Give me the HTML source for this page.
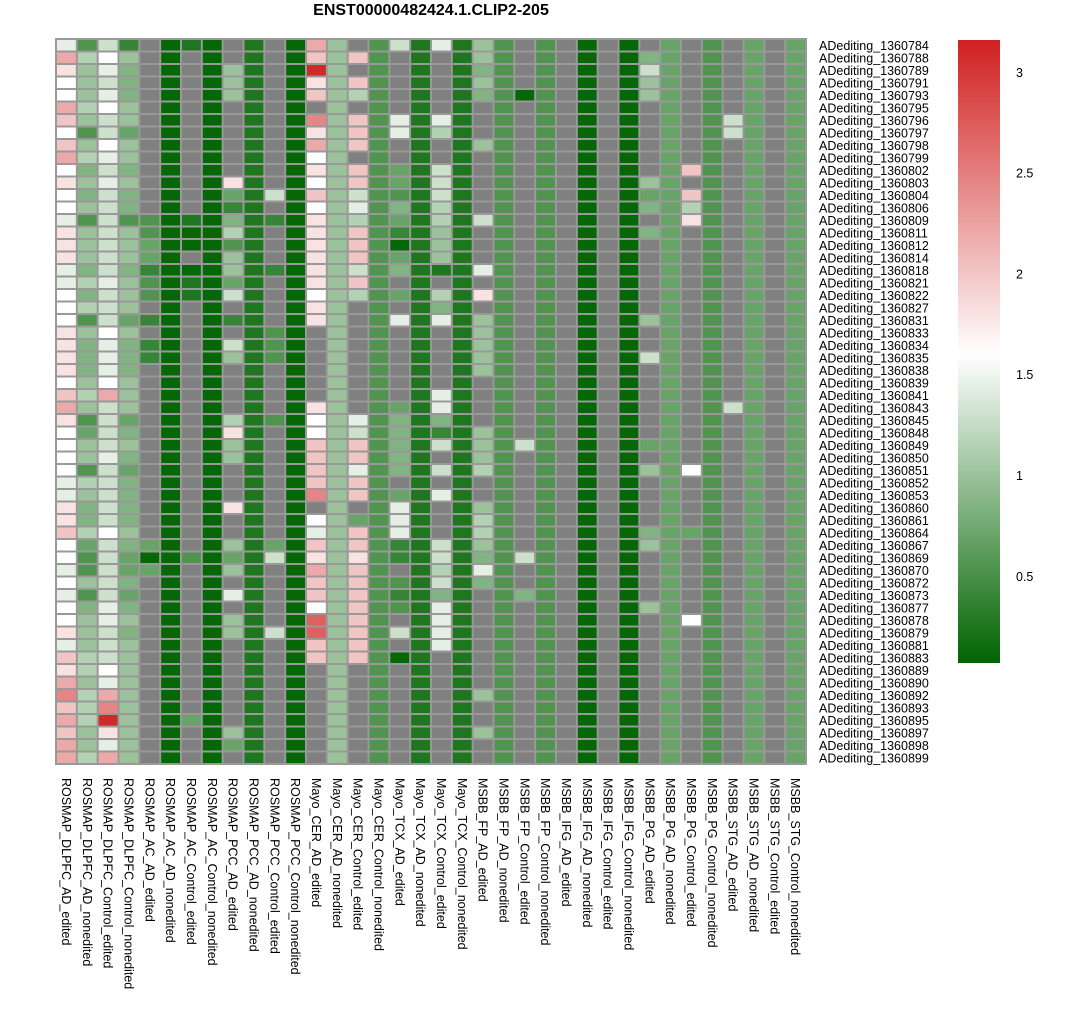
<!DOCTYPE html>
<html><head><meta charset="utf-8"><style>
body{margin:0;background:#fff;width:1066px;height:1016px;overflow:hidden;font-family:"Liberation Sans",sans-serif}
svg text{font-family:"Liberation Sans",sans-serif}
</style></head><body>
<svg id="chart" width="1066" height="1016" xmlns="http://www.w3.org/2000/svg">
<defs><linearGradient id="lg" x1="0" y1="1" x2="0" y2="0">
<stop offset="0" stop-color="#006400"/><stop offset="0.495" stop-color="#ffffff"/><stop offset="1" stop-color="#d02020"/></linearGradient></defs>
<text x="431" y="15" text-anchor="middle" font-size="16" font-weight="bold">ENST00000482424.1.CLIP2-205</text>
<rect x="55" y="38" width="752" height="727" fill="#999"/>
<g id="cells"></g><g id="rowlabels"></g><g id="collabels"></g>
<rect x="958" y="40" width="42" height="623" fill="url(#lg)"/>
<g id="legendticks"></g>
</svg>
<script>
const rowNames=["1360784","1360788","1360789","1360791","1360793","1360795","1360796","1360797","1360798","1360799","1360802","1360803","1360804","1360806","1360809","1360811","1360812","1360814","1360818","1360821","1360822","1360827","1360831","1360833","1360834","1360835","1360838","1360839","1360841","1360843","1360845","1360848","1360849","1360850","1360851","1360852","1360853","1360860","1360861","1360864","1360867","1360869","1360870","1360872","1360873","1360877","1360878","1360879","1360881","1360883","1360889","1360890","1360892","1360893","1360895","1360897","1360898","1360899"];
const colNames=["ROSMAP_DLPFC_AD_edited","ROSMAP_DLPFC_AD_nonedited","ROSMAP_DLPFC_Control_edited","ROSMAP_DLPFC_Control_nonedited","ROSMAP_AC_AD_edited","ROSMAP_AC_AD_nonedited","ROSMAP_AC_Control_edited","ROSMAP_AC_Control_nonedited","ROSMAP_PCC_AD_edited","ROSMAP_PCC_AD_nonedited","ROSMAP_PCC_Control_edited","ROSMAP_PCC_Control_nonedited","Mayo_CER_AD_edited","Mayo_CER_AD_nonedited","Mayo_CER_Control_edited","Mayo_CER_Control_nonedited","Mayo_TCX_AD_edited","Mayo_TCX_AD_nonedited","Mayo_TCX_Control_edited","Mayo_TCX_Control_nonedited","MSBB_FP_AD_edited","MSBB_FP_AD_nonedited","MSBB_FP_Control_edited","MSBB_FP_Control_nonedited","MSBB_IFG_AD_edited","MSBB_IFG_AD_nonedited","MSBB_IFG_Control_edited","MSBB_IFG_Control_nonedited","MSBB_PG_AD_edited","MSBB_PG_AD_nonedited","MSBB_PG_Control_edited","MSBB_PG_Control_nonedited","MSBB_STG_AD_edited","MSBB_STG_AD_nonedited","MSBB_STG_Control_edited","MSBB_STG_Control_nonedited"];
// value codes: '.' = NA
const codeLetters="abcdefghijklmnopq";
const codeValues=[0.1,0.25,0.4,0.55,0.7,0.85,1.0,1.15,1.3,1.45,1.6,1.8,2.0,2.2,2.45,2.7,3.1];
const columnData=[
"jnlkknmkmnklkkjlllj"+"jkkkllllkmnlkkkkjjll"+"mkkjkjkkljmlnomnmnn",
"dhggghgdghfgfgdgggf"+"hfhdgfffghgdeggdhgff"+"heddgdfggghhghhhggh",
"ikjijkiikjijiiiiiii"+"jiiikjjjkniiiijiiiii"+"kiiiiijjiiikjnoqljn",
"cgfffggeggfgffdgggf"+"gggegfffgggefgfefff"+"fgfeefefgfgggggggggg".slice(0,20),
"..............ddeec"+"dd.c.cc............."+".eae...............",
"a".repeat(58),
"b.............baa.a"+"bb.................."+"..d............e...",
"a".repeat(58),
"..ggg......lecfhdgg"+"ei.c.ig....hlgg...l."+".geg.j.gg.......ge.",
"b".repeat(58),
"............i.c...c"+"....ddd....d........"+".ei.....i..........",
"a".repeat(58),
"nmqlm.olnklkmklllll"+"lkll......lkkmmmmo.k"+"jmlnmmkppmm........",
"g".repeat(58),
".m.mh.mmm.mmijhmmmi"+"mh.........jimmjmm.e"+"mmlmmmmmmmm........",
"d".repeat(58),
"i.....jj..eedfecaef"+".e.j......efffff.ejj"+"jcc.dcd.i.a........",
"b".repeat(58),
"j.....jh..iiihhgggb"+".hfj.....jjfci.i.j.."+".iihifjjjj.........",
"b".repeat(58),
"ggfgf...g.....i...j"+".l.ggggg....gggh..gh"+"hgfjf........g..g..",
"d".repeat(58),
"....a.............."+".............i......"+"..i..f.............",
"d".repeat(58),
".".repeat(58),
"a".repeat(58),
".".repeat(58),
"a".repeat(58),
".figg......gef.f..."+"...g..i......e.g...."+"fg....g............",
"e".repeat(58),
"..........m.mhl...."+"...............k...."+"e......k...........",
"d".repeat(58),
"......ii..........."+"..........i........."+"...................",
"e".repeat(58),
".".repeat(58),
"e".repeat(58)
];
const tickValues=[3,2.5,2,1.5,1,0.5];
const tickLabels=["3","2.5","2","1.5","1","0.5"];

const X0=56,Y0=39,CW=750/36,RH=725/58;
const vmin=0.07,vmid=1.6,vmax=3.16;
function xPos(c){return X0+c*CW;}
function yPos(r){return Y0+r*RH;}
function legendY(v){return 663-(v-vmin)/(vmax-vmin)*623;}
function color(v){
  let r,g,b;
  if(v<=vmid){const t=Math.max(0,(v-vmin)/(vmid-vmin));r=255*t;g=100+155*t;b=255*t;}
  else{const t=Math.min(1,(v-vmid)/(vmax-vmid));r=255-47*t;g=255-223*t;b=255-223*t;}
  return `rgb(${r|0},${g|0},${b|0})`;
}
function decode(s){const out=[];for(let i=0;i<58;i++){const ch=s[i]||".";const k=codeLetters.indexOf(ch);out.push(k<0?null:codeValues[k]);}return out;}
const NS="http://www.w3.org/2000/svg";
const cells=document.getElementById("cells");
columnData.forEach((s,c)=>{
  const vals=decode(s);
  vals.forEach((v,r)=>{
    const el=document.createElementNS(NS,"rect");
    el.setAttribute("x",(xPos(c)+1).toFixed(2));el.setAttribute("y",(yPos(r)+1).toFixed(2));
    el.setAttribute("width",(CW-2).toFixed(2));el.setAttribute("height",(RH-2).toFixed(2));
    el.setAttribute("fill",v===null?"#808080":color(v));
    
    
    cells.appendChild(el);
  });
});
const rl=document.getElementById("rowlabels");
rowNames.forEach((n,r)=>{
  const t=document.createElementNS(NS,"text");
  t.setAttribute("x",819);t.setAttribute("y",(yPos(r)+RH/2+4.5).toFixed(1));
  t.setAttribute("font-size","12.5");t.textContent="ADediting_"+n;
  
  
  rl.appendChild(t);
});
const cl=document.getElementById("collabels");
colNames.forEach((n,c)=>{
  const t=document.createElementNS(NS,"text");
  const x=xPos(c)+CW/2-4.5,y=778;
  t.setAttribute("x",x);t.setAttribute("y",y);
  t.setAttribute("transform",`rotate(90 ${x} ${y})`);
  t.setAttribute("font-size","12.5");t.textContent=n;
  
  
  cl.appendChild(t);
});
const lt=document.getElementById("legendticks");
tickValues.forEach((v,i)=>{
  const t=document.createElementNS(NS,"text");
  t.setAttribute("x",1016);t.setAttribute("y",(legendY(v)+4.5).toFixed(1));
  t.setAttribute("font-size","12.5");t.textContent=tickLabels[i];
  
  
  lt.appendChild(t);
});
</script>
</body></html>
